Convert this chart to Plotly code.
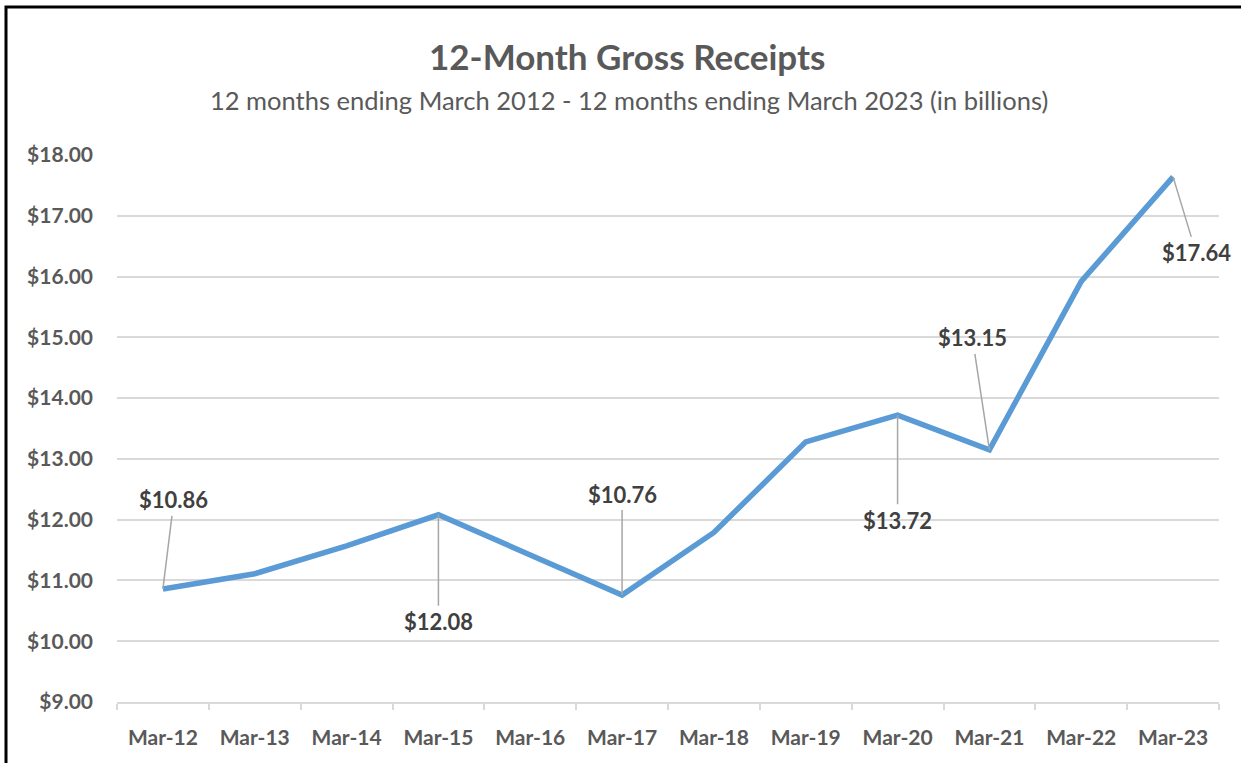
import plotly.graph_objects as go

categories = ["Mar-12", "Mar-13", "Mar-14", "Mar-15", "Mar-16", "Mar-17",
              "Mar-18", "Mar-19", "Mar-20", "Mar-21", "Mar-22", "Mar-23"]
receipts = [10.86, 11.11, 11.57, 12.08, 11.42, 10.76,
            11.79, 13.28, 13.72, 13.15, 15.92, 17.64]

# labelled points: (category index, x offset px, y offset px)
label_idx = [0, 3, 5, 8, 9, 11]
label_ax = [11, 0, 0, 0, -17, 23]
label_ay = [-89, 107, -101, 105, -112, 76]

title_text = "12-Month Gross Receipts"
subtitle_text = "12 months ending March 2012 - 12 months ending March 2023 (in billions)"

FONT = "Lato"
W, H = 1241, 763
L, R, T, B = 117, 22, 155, 61
pw, ph = W - L - R, H - T - B


def px_x(px):
    return (px - L) / pw


def px_y(py):
    return (H - B - py) / ph


fig = go.Figure()
fig.add_trace(go.Scatter(
    x=categories, y=receipts, mode="lines",
    line=dict(color="#5B9BD5", width=5.5),
    hoverinfo="x+y", showlegend=False,
))

for i, ax, ay in zip(label_idx, label_ax, label_ay):
    fig.add_annotation(
        x=categories[i], y=receipts[i], xref="x", yref="y",
        text=f"${receipts[i]:.2f}", showarrow=True, arrowhead=0,
        arrowwidth=1.5, arrowcolor="#A6A6A6", ax=ax, ay=ay,
        font=dict(family=FONT, size=22, color="#404040", weight="bold"),
        standoff=0, borderpad=2,
    )

fig.add_annotation(
    x=px_x(627), y=px_y(56), xref="paper", yref="paper",
    text=title_text, showarrow=False,
    font=dict(family=FONT, size=35, color="#595959", weight="bold"),
    xanchor="center", yanchor="middle",
)
fig.add_annotation(
    x=px_x(629), y=px_y(100), xref="paper", yref="paper",
    text=subtitle_text, showarrow=False,
    font=dict(family=FONT, size=25.5, color="#595959"),
    xanchor="center", yanchor="middle",
)

# chart border
fig.add_shape(
    type="rect", xref="paper", yref="paper",
    x0=px_x(6), y0=px_y(775), x1=px_x(1260), y1=px_y(7),
    line=dict(color="black", width=3), fillcolor="rgba(0,0,0,0)", layer="above",
)

fig.update_layout(
    width=W, height=H,
    margin=dict(l=L, r=R, t=T, b=B, autoexpand=False),
    paper_bgcolor="white", plot_bgcolor="white",
    font=dict(family=FONT),
    xaxis=dict(
        type="category", range=[-0.5, 11.5],
        showgrid=False, showline=True, linecolor="#D9D9D9", linewidth=1.5,
        ticks="outside", tickson="boundaries", ticklen=6, tickcolor="#D9D9D9",
        tickwidth=1.5, ticklabelstandoff=16,
        tickfont=dict(family=FONT, size=21, color="#595959", weight="bold"),
        zeroline=False,
    ),
    yaxis=dict(
        range=[9, 18], dtick=1, tick0=9, tickprefix="$", tickformat=".2f",
        showgrid=True, gridcolor="#D9D9D9", gridwidth=1.5,
        showline=False, zeroline=False, ticks="", ticklabelstandoff=23,
        tickfont=dict(family=FONT, size=21, color="#595959", weight="bold"),
    ),
)

fig.write_html(
    "out.html",
    config={"displayModeBar": False},
    post_script="document.body.style.margin='0';document.body.style.overflow='hidden';",
)
